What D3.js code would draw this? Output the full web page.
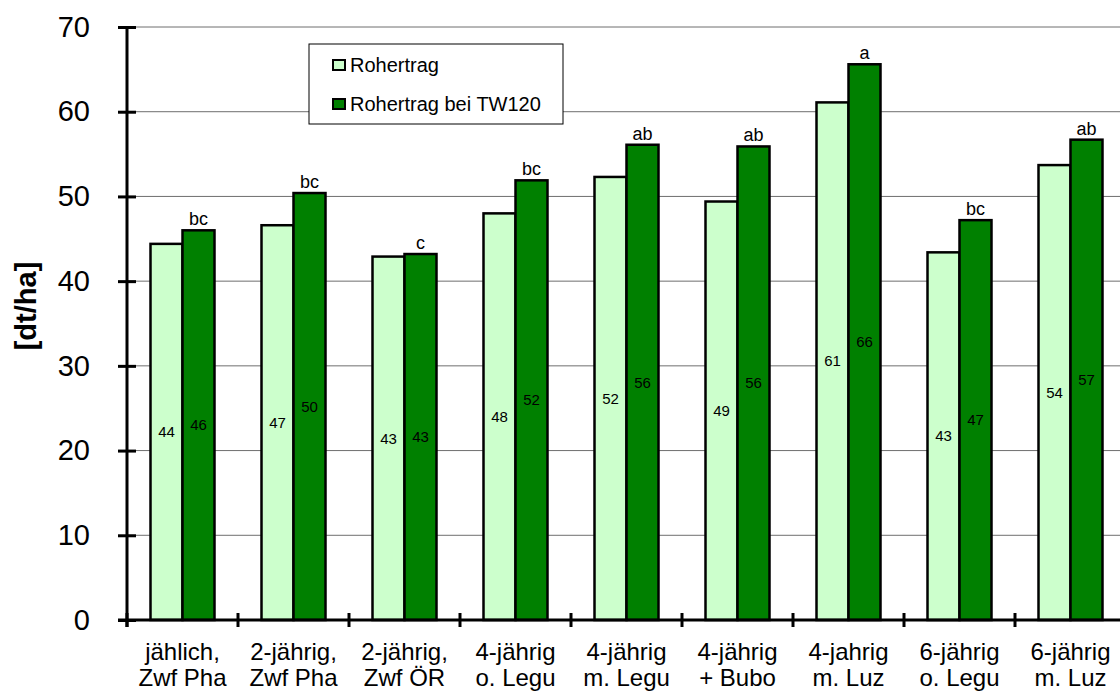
<!DOCTYPE html>
<html>
<head>
<meta charset="utf-8">
<script src="https://cdn.jsdelivr.net/npm/d3@7"></script>
<style>
  body { margin: 0; background: #fff; }
  text { font-family: 'Liberation Sans', Arial, sans-serif; }
</style>
</head>
<body>
<div id="chart"></div>
<script>
const categories = [
  'jählich,|Zwf Pha', '2-jährig,|Zwf Pha', '2-jährig,|Zwf ÖR',
  '4-jährig|o. Legu', '4-jährig|m. Legu', '4-jährig|+ Bubo',
  '4-jahrig|m. Luz', '6-jährig|o. Legu', '6-jährig|m. Luz'
]
const seriesNames = ['Rohertrag', 'Rohertrag bei TW120']
const rohertrag = [44.4, 46.6, 42.9, 48.0, 52.3, 49.4, 61.1, 43.4, 53.7]
const rohertragTW = [46.0, 50.4, 43.2, 51.9, 56.1, 55.9, 65.6, 47.2, 56.7]
const letters = ['bc', 'bc', 'c', 'bc', 'ab', 'ab', 'a', 'bc', 'ab']
const yTicks = [0, 10, 20, 30, 40, 50, 60, 70]

const W = 1120, H = 691
const margin = { top: 27, left: 127, bottom: 71 }
const bandW = 111

const svg = d3.select('#chart').append('svg')
  .attr('width', W).attr('height', H)

const x = d3.scaleBand()
  .domain(categories)
  .range([margin.left, margin.left + bandW * categories.length])

const x1 = d3.scaleBand()
  .domain(seriesNames)
  .range([23.5, 87.5])

const y = d3.scaleLinear()
  .domain([0, 70])
  .range([H - margin.bottom, margin.top])

const colors = d3.scaleOrdinal().domain(seriesNames).range(['#ccffcc', '#008000'])

// gridlines
svg.append('g')
  .selectAll('line')
  .data(yTicks.filter(d => d > 0))
  .enter().append('line')
  .attr('x1', margin.left).attr('x2', W)
  .attr('y1', d => y(d)).attr('y2', d => y(d))
  .attr('stroke', '#6e6e6e').attr('stroke-width', 1)

const rows = categories.map((c, i) => ({
  cat: c, values: [rohertrag[i], rohertragTW[i]], letter: letters[i]
}))

const groups = svg.selectAll('.group')
  .data(rows)
  .enter().append('g')
  .attr('class', 'group')
  .attr('transform', d => `translate(${x(d.cat)},0)`)

groups.each(function(d) {
  const g = d3.select(this)
  const vals = seriesNames.map((s, j) => ({ s: s, v: d.values[j] }))

  g.selectAll('rect')
    .data(vals)
    .enter().append('rect')
    .attr('x', v => x1(v.s))
    .attr('width', x1.bandwidth())
    .attr('y', v => y(v.v))
    .attr('height', v => y(0) - y(v.v))
    .attr('fill', v => colors(v.s))
    .attr('stroke', '#000')
    .attr('stroke-width', 2.5)

  g.selectAll('.val')
    .data(vals)
    .enter().append('text')
    .attr('class', 'val')
    .attr('x', v => x1(v.s) + x1.bandwidth() / 2)
    .attr('y', v => (y(v.v) + y(0)) / 2)
    .attr('dy', '0.35em')
    .attr('text-anchor', 'middle')
    .attr('font-size', 15)
    .attr('fill', '#000')
    .text(v => Math.round(v.v))

  g.append('text')
    .attr('x', x1(seriesNames[1]) + x1.bandwidth() / 2)
    .attr('y', y(d.values[1]) - 5)
    .attr('text-anchor', 'middle')
    .attr('font-size', 18)
    .text(d.letter)
})

// y axis
const yAxis = svg.append('g')
  .attr('transform', `translate(${margin.left},0)`)
  .call(d3.axisLeft(y).tickValues(yTicks).tickSize(9).tickPadding(28))
yAxis.select('.domain').remove()
yAxis.append('line')
  .attr('x1', 0).attr('x2', 0)
  .attr('y1', y(70)).attr('y2', y(0) + 7)
  .attr('stroke', '#000').attr('stroke-width', 3)
yAxis.selectAll('.tick line')
  .attr('x1', -9).attr('x2', 9)
  .attr('stroke-width', 3)
yAxis.selectAll('.tick text')
  .attr('font-size', 29)
  .attr('font-family', "'Liberation Sans', Arial, sans-serif")
  .attr('fill', '#000')

// x axis
const xAxis = svg.append('g')
  .attr('transform', `translate(0,${y(0)})`)
  .call(d3.axisBottom(x).tickSize(0).tickPadding(0))
xAxis.select('.domain').remove()
xAxis.append('line')
  .attr('x1', margin.left - 9).attr('x2', W)
  .attr('y1', 0).attr('y2', 0)
  .attr('stroke', '#000').attr('stroke-width', 3)
xAxis.selectAll('.bound')
  .data(categories)
  .enter().append('line')
  .attr('class', 'bound')
  .attr('x1', d => x(d)).attr('x2', d => x(d))
  .attr('y1', -7).attr('y2', 7)
  .attr('stroke', '#000').attr('stroke-width', 3)
xAxis.selectAll('.tick text').each(function(d) {
  const t = d3.select(this).text('')
    .attr('font-size', 24)
    .attr('font-family', "'Liberation Sans', Arial, sans-serif")
    .attr('fill', '#000')
    .attr('y', 0)
    .attr('dy', null)
  d.split('|').forEach((line, i) => {
    t.append('tspan').attr('x', 0).attr('y', 40 + i * 26).text(line)
  })
})

// axis title
svg.append('text')
  .attr('transform', 'translate(36,306) rotate(-90)')
  .attr('text-anchor', 'middle')
  .attr('font-size', 29)
  .attr('font-weight', 'bold')
  .text('[dt/ha]')

// legend
const legend = svg.append('g').attr('transform', 'translate(309,44)')
legend.append('rect')
  .attr('width', 254).attr('height', 80)
  .attr('fill', '#fff').attr('stroke', '#000').attr('stroke-width', 1)
legend.selectAll('.legend-entry')
  .data(seriesNames)
  .enter().append('g')
  .attr('class', 'legend-entry')
  .attr('transform', (d, i) => `translate(24,${21 + i * 39})`)
  .each(function(d) {
    const g = d3.select(this)
    g.append('rect')
      .attr('x', 0).attr('y', -5)
      .attr('width', 12).attr('height', 10)
      .attr('fill', colors(d))
      .attr('stroke', '#000').attr('stroke-width', 2)
    g.append('text')
      .attr('x', 17).attr('y', 0)
      .attr('dy', '0.35em')
      .attr('font-size', 20)
      .text(d)
  })
</script>
</body>
</html>
